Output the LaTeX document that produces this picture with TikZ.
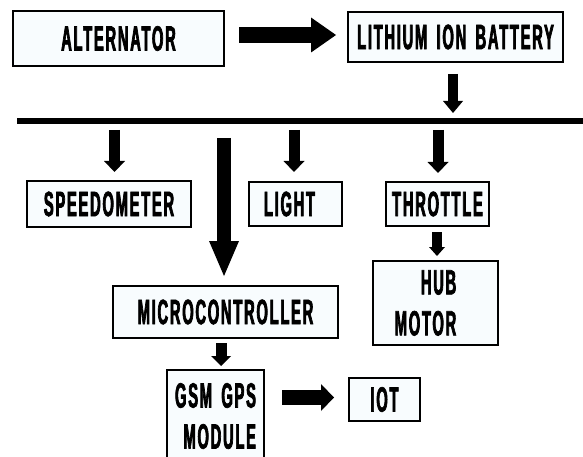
\documentclass[tikz,border=0pt]{standalone}
\usepackage{fontspec}
\newfontfamily\boxfont{Liberation Sans}[FakeStretch=0.42,FakeBold=2,LetterSpace=5,WordSpace=1.6]
\usetikzlibrary{arrows.meta}
\definecolor{boxfill}{RGB}{248,252,254}
\newcommand\boxtext{\boxfont\bfseries\fontsize{35}{41}\selectfont}
\tikzset{
  box/.style={draw, line width=2pt, fill=boxfill, inner sep=0pt, font=\boxtext},
  fat/.style n args={3}{line width=#1, -{Triangle[width=#2,length=#3,line width=0pt]}}
}
\begin{document}
\begin{tikzpicture}[x=1pt,y=-1pt]
\useasboundingbox (0,0) rectangle (583,457);
% boxes
\node[box, minimum width=211pt, minimum height=55pt] (alt) at (118.5,38.5) {ALTERNATOR};
\node[box, minimum width=215pt, minimum height=50pt] (lith) at (455.5,37) {LITHIUM ION BATTERY};
\node[box, minimum width=164pt, minimum height=45pt] (speed) at (109,204) {SPEEDOMETER};
\node[box, minimum width=93pt, minimum height=44pt] (light) at (295.5,204) {LIGHT\hspace*{12pt}};
\node[box, minimum width=103pt, minimum height=44pt] (thr) at (437.5,204) {THROTTLE};
\node[box, minimum width=125pt, minimum height=84pt, align=right] (hub) at (435.5,303) {HUB\hspace*{20pt}\\MOTOR\hspace*{20pt}};
\node[box, minimum width=225pt, minimum height=52pt] (micro) at (225.5,312) {MICROCONTROLLER};
\node[box, minimum width=97pt, minimum height=92pt, align=right] (gsm) at (215.5,416) {GSM GPS\\MODULE};
\node[box, minimum width=71pt, minimum height=43pt] (iot) at (384.5,399.5) {IOT};
% bus
\coordinate (busL) at (17,121);
\coordinate (busR) at (590,121);
\draw[line width=6pt] (busL) -- (busR);
% helper coordinates
\coordinate (ay) at (0,35);
\coordinate (bx) at (453,0);
\coordinate (sx) at (114.5,0);
\coordinate (lx) at (294,0);
\coordinate (tx) at (438,0);
\coordinate (mx) at (224,0);
\coordinate (hx) at (437,0);
\coordinate (gx) at (221,0);
\coordinate (iy) at (0,397.5);
% arrows
\draw[fat={16pt}{35pt}{25pt}, shorten <=14pt, shorten >=11pt] (alt.east |- ay) -- (lith.west |- ay);
\draw[fat={10pt}{20pt}{12pt}, shorten <=11pt, shorten >=8pt] (bx |- lith.south) -- (bx |- busL);
\draw[fat={11pt}{21pt}{11pt}, shorten <=9pt, shorten >=8.5pt] (sx |- busL) -- (sx |- speed.north);
\draw[fat={11pt}{21pt}{11pt}, shorten <=9pt, shorten >=9pt] (lx |- busL) -- (lx |- light.north);
\draw[fat={11pt}{21pt}{11pt}, shorten <=9pt, shorten >=8pt] (tx |- busL) -- (tx |- thr.north);
\draw[fat={14pt}{30pt}{35pt}, shorten <=17pt, shorten >=9pt] (mx |- busL) -- (mx |- micro.north);
\draw[fat={10pt}{16pt}{9pt}, shorten <=5pt, shorten >=4pt] (hx |- thr.south) -- (hx |- hub.north);
\draw[fat={11pt}{20pt}{10pt}, shorten <=4pt, shorten >=3pt] (gx |- micro.south) -- (gx |- gsm.north);
\draw[fat={15pt}{27pt}{13pt}, shorten <=17pt, shorten >=14pt] (gsm.east |- iy) -- (iot.west |- iy);
\end{tikzpicture}
\end{document}
